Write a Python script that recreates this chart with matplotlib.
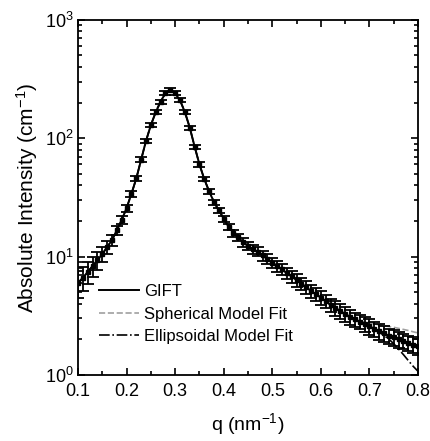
import numpy as np
import matplotlib
matplotlib.use("Agg")
import matplotlib.pyplot as plt
from matplotlib.ticker import MultipleLocator, LogLocator, NullFormatter

plt.rcParams['font.family'] = ['Liberation Sans', 'DejaVu Sans']
plt.rcParams['mathtext.default'] = 'regular'

q = [0.10, 0.11, 0.12, 0.13, 0.14, 0.15, 0.16, 0.17, 0.18, 0.19,
     0.20, 0.21, 0.22, 0.23, 0.24, 0.25, 0.26, 0.27, 0.28, 0.29,
     0.30, 0.31, 0.32, 0.33, 0.34, 0.35, 0.36, 0.37, 0.38, 0.39,
     0.40, 0.41, 0.42, 0.43, 0.44, 0.45, 0.46, 0.47, 0.48, 0.49,
     0.50, 0.51, 0.52, 0.53, 0.54, 0.55, 0.56, 0.57, 0.58, 0.59,
     0.60, 0.61, 0.62, 0.63, 0.64, 0.65, 0.66, 0.67, 0.68, 0.69,
     0.70, 0.71, 0.72, 0.73, 0.74, 0.75, 0.76, 0.77, 0.78, 0.79, 0.80]
intensity = [6.0, 6.6, 7.4, 8.3, 9.3, 10.5, 12.0, 13.8, 16.6, 20.4,
             25.7, 33.9, 45.7, 66, 95, 129, 166, 204, 240, 257,
             240, 209, 166, 123, 85, 60, 45, 35.5, 28.8, 24.5,
             20.9, 17.8, 15.8, 14.5, 13.2, 12.3, 11.5, 11.0, 10.2, 9.55,
             8.9, 8.3, 7.8, 7.2, 6.8, 6.3, 5.9, 5.5, 5.1, 4.8,
             4.5, 4.2, 3.9, 3.67, 3.47, 3.27, 3.09, 2.95, 2.82, 2.69,
             2.57, 2.45, 2.34, 2.24, 2.14, 2.07, 2.0, 1.93, 1.86, 1.80, 1.74]
# relative error of each point
rel_err = [0.25, 0.23, 0.21, 0.19, 0.17, 0.15, 0.13, 0.11, 0.09, 0.08,
           0.07, 0.06, 0.05, 0.05, 0.04, 0.04, 0.04, 0.04, 0.04, 0.04,
           0.04, 0.04, 0.04, 0.04, 0.04, 0.04, 0.04, 0.05, 0.05, 0.05,
           0.06, 0.06, 0.07, 0.07, 0.08, 0.08, 0.09, 0.09, 0.10, 0.10,
           0.10, 0.11, 0.11, 0.11, 0.12, 0.12, 0.12, 0.12, 0.13, 0.13,
           0.13, 0.13, 0.13, 0.14, 0.14, 0.14, 0.14, 0.14, 0.14, 0.15,
           0.15, 0.15, 0.15, 0.15, 0.15, 0.15, 0.15, 0.15, 0.15, 0.15, 0.15]

# model fits: same as GIFT curve except where they split off at high q
sph_start = 57   # q = 0.67
sph_tail = [2.97, 2.87, 2.80, 2.74, 2.69, 2.64, 2.60, 2.56, 2.52, 2.47, 2.42, 2.37, 2.31, 2.26]
ell_start = 62   # q = 0.72
ell_tail = [2.30, 2.15, 2.0, 1.83, 1.65, 1.48, 1.32, 1.18, 1.07]

q = np.array(q)
intensity = np.array(intensity)
err = intensity * np.array(rel_err)
spherical = np.concatenate([intensity[:sph_start], sph_tail])
ellipsoidal = np.concatenate([intensity[:ell_start], ell_tail])

fig = plt.figure(figsize=(4.31, 4.41), dpi=100)
ax = fig.add_axes([0.181, 0.150, 0.789, 0.805])

ax.errorbar(q, intensity, yerr=err, fmt='s', ms=2.5, color='k', ecolor='k',
            elinewidth=1.3, capsize=4.5, capthick=1.3, zorder=3)
ax.plot(q, intensity, '-', color='k', lw=1.4, label='GIFT', zorder=4)
ax.plot(q, spherical, '--', color='#a0a0a0', lw=1.2, label='Spherical Model Fit', zorder=2)
ax.plot(q, ellipsoidal, '-.', color='k', lw=1.2, label='Ellipsoidal Model Fit', zorder=2)

ax.set_yscale('log')
ax.set_xlim(0.1, 0.8)
ax.set_ylim(1, 1000)
ax.xaxis.set_major_locator(MultipleLocator(0.1))
ax.xaxis.set_minor_locator(MultipleLocator(0.05))
ax.yaxis.set_major_locator(LogLocator(base=10))
ax.yaxis.set_minor_locator(LogLocator(base=10, subs=np.arange(2, 10)))
ax.yaxis.set_minor_formatter(NullFormatter())
ax.set_xticks([0.1, 0.2, 0.3, 0.4, 0.5, 0.6, 0.7, 0.8],
              ['0.1', '0.2', '0.3', '0.4', '0.5', '0.6', '0.7', '0.8'])

ax.tick_params(which='both', direction='in', top=True, right=True, width=1.2, labelsize=13)
ax.tick_params(axis='x', pad=6)
ax.tick_params(axis='y', pad=3)
ax.tick_params(which='major', length=5)
ax.tick_params(which='minor', length=3)
for s in ax.spines.values():
    s.set_linewidth(1.3)

ax.set_xlabel('q (nm$^{-1}$)', fontsize=14, labelpad=8)
ax.set_ylabel('Absolute Intensity (cm$^{-1}$)', fontsize=15, labelpad=4)

ax.legend(loc='upper left', bbox_to_anchor=(0.062, 0.255), frameon=False,
          fontsize=12, handlelength=2.4, handletextpad=0.3, labelspacing=0.45,
          borderpad=0, borderaxespad=0)

fig.savefig('out.png', dpi=100)
